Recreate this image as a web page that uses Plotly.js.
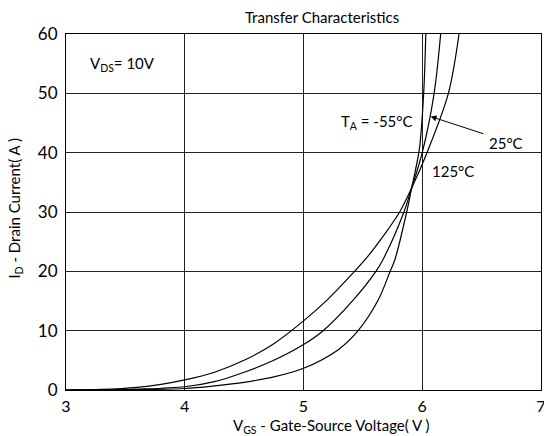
<!DOCTYPE html>
<html>
<head>
<meta charset="utf-8">
<script src="https://cdn.plot.ly/plotly-3.0.1.min.js"></script>
<style>html,body{margin:0;padding:0;background:#fff;}#chart{width:544px;height:436px;}</style>
</head>
<body>
<div id="chart"></div>
<script>
// Tj = 125°C
const vgs125 = [3.0, 3.3, 3.6, 3.8, 4.0, 4.25, 4.5, 4.75, 5.0, 5.2, 5.43, 5.52, 5.67, 5.81, 5.91, 6.04, 6.22, 6.31];
const id125  = [0, 0.1, 0.45, 0.95, 1.7, 3.0, 5.0, 7.8, 11.65, 15.2, 20, 22, 25.9, 30, 34, 40, 50, 60];
// Tj = 25°C
const vgs25 = [3.0, 3.3, 3.6, 4.0, 4.25, 4.5, 4.75, 5.0, 5.165, 5.42, 5.61, 5.67, 5.846, 5.91, 6.0, 6.1, 6.155];
const id25  = [0, 0.02, 0.15, 0.55, 1.4, 3.0, 5.0, 7.65, 10, 15.2, 20, 22, 30, 34, 40, 50, 60];
// Tj = -55°C
const vgsM55 = [3.0, 3.6, 4.0, 4.25, 4.5, 4.75, 5.0, 5.29, 5.46, 5.63, 5.73, 5.77, 5.869, 5.91, 5.975, 6.012, 6.03];
const idM55  = [0, 0.05, 0.25, 0.7, 1.3, 2.2, 3.66, 6.76, 10, 15.2, 20, 22, 30, 34, 40.5, 50, 60];

const xTicks = [3, 4, 5, 6, 7];
const yTicks = [0, 10, 20, 30, 40, 50, 60];

const FONT = 'Lato, Carlito, "Liberation Sans", sans-serif';
const lineStyle = {color: '#000', width: 1.2, shape: 'spline', smoothing: 0.9};

const traces = [
  {x: vgs125, y: id125, name: '125°C', mode: 'lines', line: lineStyle, hoverinfo: 'skip'},
  {x: vgs25, y: id25, name: '25°C', mode: 'lines', line: lineStyle, hoverinfo: 'skip'},
  {x: vgsM55, y: idM55, name: '-55°C', mode: 'lines', line: lineStyle, hoverinfo: 'skip'}
];

const layout = {
  width: 544, height: 436,
  margin: {l: 66, r: 3, t: 34, b: 46},
  paper_bgcolor: '#fff', plot_bgcolor: '#fff',
  showlegend: false,
  font: {family: FONT, size: 16, color: '#000'},
  title: {text: 'Transfer Characteristics', font: {family: FONT, size: 15, color: '#000'},
          xref: 'container', yref: 'container', x: 0.592, y: 0.959, xanchor: 'center', yanchor: 'middle'},
  xaxis: {range: [3, 7], tickvals: xTicks, ticktext: xTicks.map(String), showgrid: true, gridcolor: '#222', gridwidth: 1,
          zeroline: false, showline: true, linecolor: '#000', linewidth: 1, mirror: true, ticks: '',
          ticklabelstandoff: 2, ticklabeloverflow: 'allow',
          tickfont: {family: FONT, size: 16, color: '#000'}, fixedrange: true},
  yaxis: {range: [0, 60], tickvals: yTicks, ticktext: yTicks.map(String), showgrid: true, gridcolor: '#222', gridwidth: 1,
          zeroline: false, showline: true, linecolor: '#000', linewidth: 1, mirror: true, ticks: '',
          ticklabelstandoff: 4, ticklabeloverflow: 'allow',
          tickfont: {family: FONT, size: 17, color: '#000'}, fixedrange: true},
  annotations: [
    {xref: 'paper', yref: 'paper', x: 0.559, y: -0.1, xanchor: 'center', yanchor: 'middle', showarrow: false,
     text: 'V<sub>GS</sub> - Gate-Source Voltage( V )', font: {family: FONT, size: 15, color: '#000'}},
    {xref: 'paper', yref: 'paper', x: -0.107, y: 0.51, xanchor: 'center', yanchor: 'middle', showarrow: false, textangle: -90,
     text: 'I<sub>D</sub> - Drain Current( A )', font: {family: FONT, size: 15, color: '#000'}},
    {xref: 'x', yref: 'y', x: 3.185, y: 54.9, xanchor: 'left', yanchor: 'middle', showarrow: false,
     text: 'V<sub>DS</sub>= 10V', font: {family: FONT, size: 15, color: '#000'}},
    {xref: 'x', yref: 'y', x: 5.939, y: 45.1, xanchor: 'right', yanchor: 'middle', showarrow: false,
     text: 'T<sub>A</sub> = -55°C', font: {family: FONT, size: 15, color: '#000'}},
    {xref: 'x', yref: 'y', x: 6.065, y: 36.9, xanchor: 'left', yanchor: 'middle', showarrow: false,
     text: '125°C', font: {family: FONT, size: 15, color: '#000'}},
    {xref: 'x', yref: 'y', x: 6.548, y: 41.7, xanchor: 'left', yanchor: 'middle', showarrow: false,
     text: '25°C', font: {family: FONT, size: 15, color: '#000'}},
    {xref: 'x', yref: 'y', x: 6.07, y: 46.1, axref: 'x', ayref: 'y', ax: 6.528, ay: 43.1, text: '',
     showarrow: true, arrowhead: 2, arrowsize: 1.2, arrowwidth: 1, arrowcolor: '#000'}
  ]
};

Plotly.newPlot('chart', traces, layout, {staticPlot: true, displayModeBar: false});
</script>
</body>
</html>
